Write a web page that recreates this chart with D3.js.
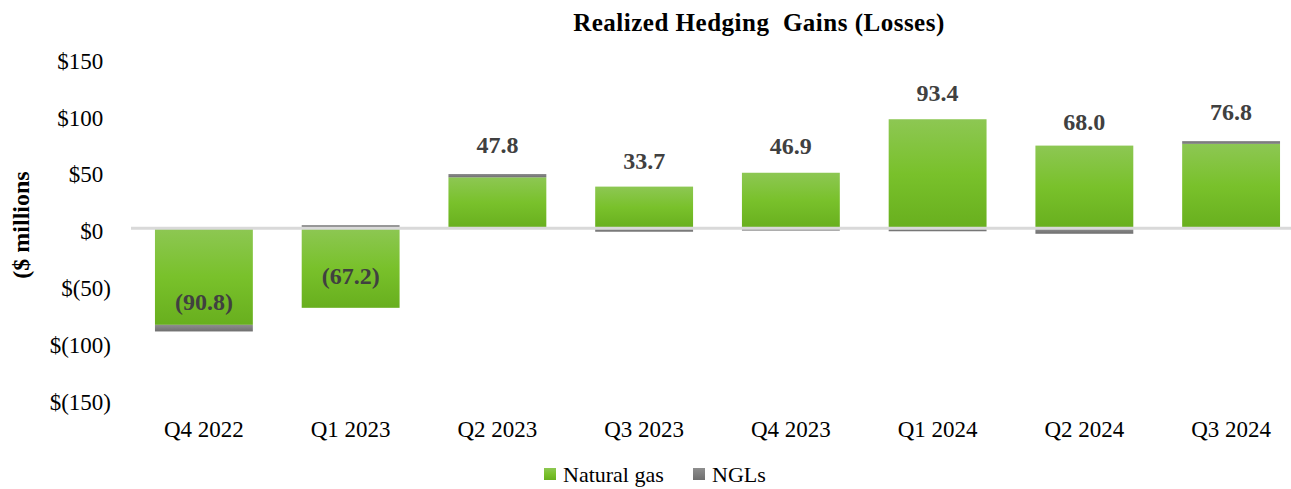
<!DOCTYPE html>
<html>
<head>
<meta charset="utf-8">
<script src="https://cdn.jsdelivr.net/npm/d3@7"></script>
<style>
  body { margin: 0; background: #fff; }
  svg text { font-family: "Liberation Serif", "Times New Roman", serif; }
</style>
</head>
<body>
<div class="chart"></div>
<script>
const quarters = ["Q4 2022", "Q1 2023", "Q2 2023", "Q3 2023", "Q4 2023", "Q1 2024", "Q2 2024", "Q3 2024"];
const naturalGas = [-85.0, -70.0, 44.9, 36.7, 48.9, 96.0, 72.8, 74.4];
const ngls = [-5.8, 2.8, 2.9, -3.0, -2.0, -2.6, -4.8, 2.4];
const yTicks = [-150, -100, -50, 0, 50, 100, 150];
const seriesNames = ["Natural gas", "NGLs"];

const width = 1291;
const height = 489;

const rows = quarters.map((q, i) => ({ quarter: q, gas: naturalGas[i], ngl: ngls[i] }));

const stacked = d3.stack()
    .keys(["gas", "ngl"])
    .offset(d3.stackOffsetDiverging)(rows);

const xScale = d3.scaleBand()
    .domain(quarters)
    .range([130.5, 1304.5])
    .paddingInner(0.333)
    .paddingOuter(0.1667);

const yScale = d3.scaleLinear()
    .domain([-150, 150])
    .range([398.7, 57.9]);

const svg = d3.select(".chart")
    .append("svg")
    .attr("width", width)
    .attr("height", height);

const defs = svg.append("defs");
function addGradient(id, stops) {
    const g = defs.append("linearGradient")
        .attr("id", id)
        .attr("x1", 0).attr("y1", 0)
        .attr("x2", 0).attr("y2", 1);
    stops.forEach(s => g.append("stop").attr("offset", s[0]).attr("stop-color", s[1]));
}
addGradient("gasFill", [["0%", "#8dc753"], ["50%", "#79c12b"], ["100%", "#68af1e"]]);
addGradient("nglFill", [["0%", "#8e8e8e"], ["100%", "#6f6f6f"]]);
const fills = ["url(#gasFill)", "url(#nglFill)"];

// bars
svg.append("g")
    .selectAll("g")
    .data(stacked)
    .enter()
    .append("g")
    .attr("fill", (d, i) => fills[i])
    .selectAll("rect")
    .data(d => d)
    .enter()
    .append("rect")
    .attr("x", d => xScale(d.data.quarter))
    .attr("width", xScale.bandwidth())
    .attr("y", d => yScale(Math.max(d[0], d[1])))
    .attr("height", d => Math.abs(yScale(d[0]) - yScale(d[1])));

// zero line
svg.append("line")
    .attr("x1", 131)
    .attr("x2", width)
    .attr("y1", yScale(0))
    .attr("y2", yScale(0))
    .attr("stroke", "#d9d9d9")
    .attr("stroke-width", 3);

// y axis
const yAxisG = svg.append("g")
    .attr("transform", "translate(111,0)")
    .call(d3.axisLeft(yScale)
        .tickValues(yTicks)
        .tickSize(0)
        .tickPadding(0)
        .tickFormat(d => d < 0 ? `$(${Math.abs(d)})` : `$${d}`));
yAxisG.select(".domain").remove();
yAxisG.selectAll("text")
    .attr("dy", "0.45em")
    .style("font-size", "23px")
    .attr("fill", "#000")
    .each(function(d) {
        if (d >= 0) d3.select(this).append("tspan").attr("fill-opacity", 0).text(")");
    });

// x axis
const xAxisG = svg.append("g")
    .attr("transform", "translate(0,437)")
    .call(d3.axisBottom(xScale).tickSize(0).tickPadding(0));
xAxisG.select(".domain").remove();
xAxisG.selectAll("text")
    .attr("dy", 0)
    .style("font-size", "23px")
    .attr("fill", "#000");

// total labels
const fmt = d3.format(".1f");
svg.append("g")
    .selectAll("text")
    .data(rows)
    .enter()
    .append("text")
    .attr("x", d => xScale(d.quarter) + xScale.bandwidth() / 2)
    .attr("y", d => yScale(d.gas + d.ngl) - 21)
    .attr("text-anchor", "middle")
    .attr("fill", "#404040")
    .style("font-size", "24px")
    .style("font-weight", "bold")
    .text(d => {
        const t = d.gas + d.ngl;
        return t < 0 ? `(${fmt(-t)})` : fmt(t);
    });

// title
svg.append("text")
    .attr("x", 759)
    .attr("y", 31)
    .attr("text-anchor", "middle")
    .style("font-size", "25px")
    .style("font-weight", "bold")
    .style("letter-spacing", "0.5px")
    .style("white-space", "pre")
    .text("Realized Hedging  Gains (Losses)");

// y title
svg.append("text")
    .attr("transform", "translate(29,225) rotate(-90)")
    .attr("text-anchor", "middle")
    .style("font-size", "24px")
    .style("font-weight", "bold")
    .text("($ millions");

// legend
const legendX = [544, 693];
const legend = svg.append("g")
    .selectAll("g")
    .data(seriesNames)
    .enter()
    .append("g")
    .attr("transform", (d, i) => `translate(${legendX[i]},468)`);
legend.append("rect")
    .attr("width", 12)
    .attr("height", 12)
    .attr("fill", (d, i) => fills[i]);
legend.append("text")
    .attr("x", 19)
    .attr("y", 14)
    .style("font-size", "22px")
    .text(d => d);
</script>
</body>
</html>
